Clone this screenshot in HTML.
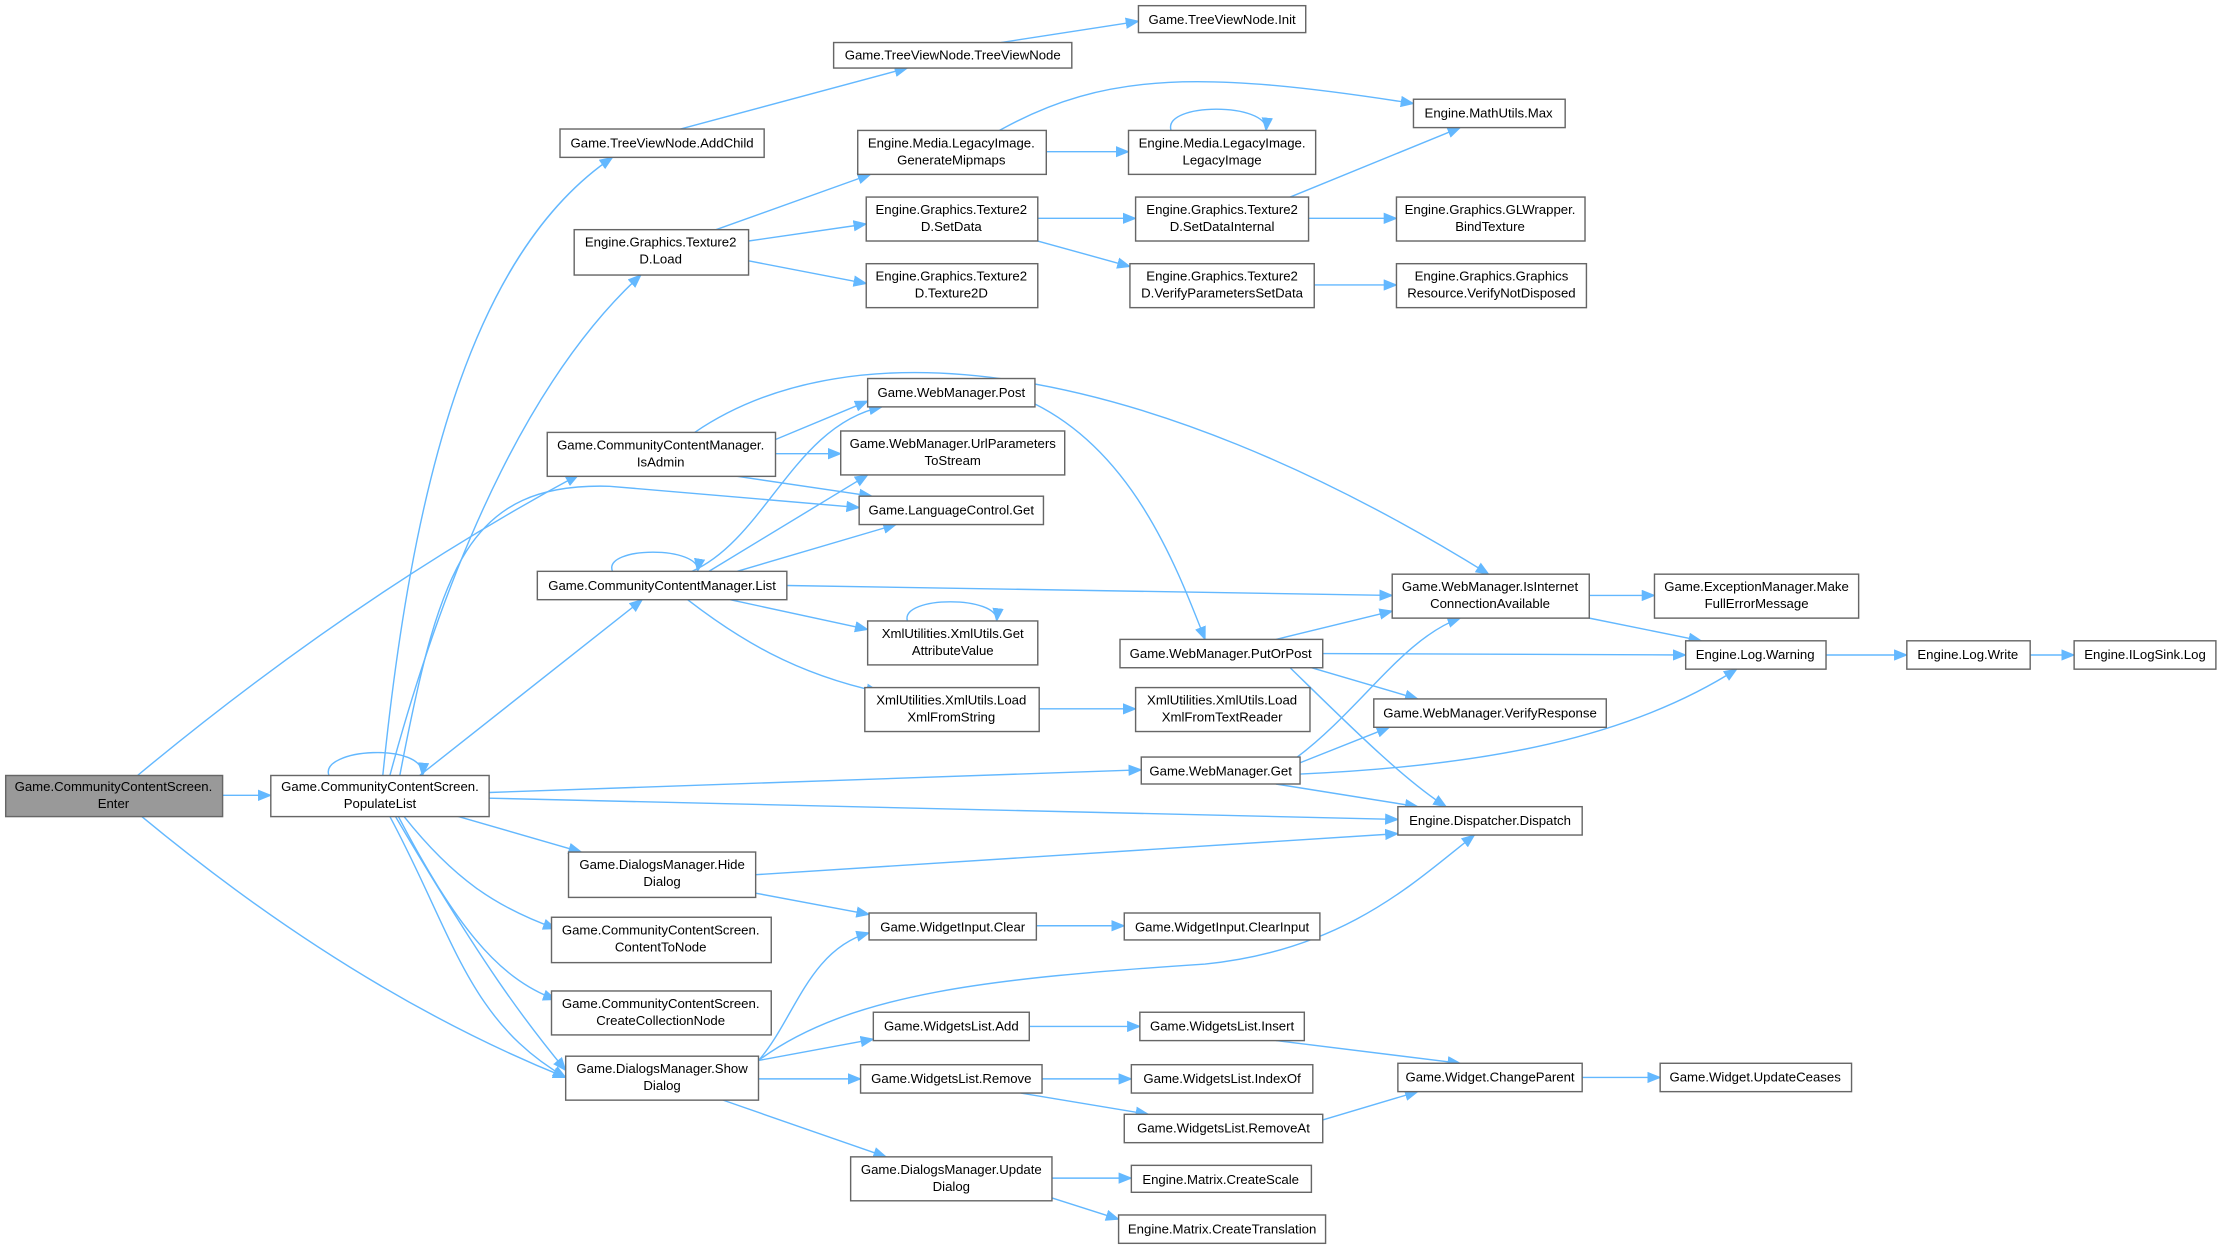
<!DOCTYPE html>
<html><head><meta charset="utf-8"><style>
html,body{margin:0;padding:0;background:#fff;}
svg{display:block;}
text{font-family:"Liberation Sans",sans-serif;font-size:9.3px;fill:#000;text-anchor:middle;}
.n{fill:#fff;stroke:#666;stroke-width:1;}
.e{fill:none;stroke:#63b8ff;stroke-width:1;marker-end:url(#a);}
</style></head><body>
<svg width="2223" height="1249" viewBox="0 0 1568 881" xmlns="http://www.w3.org/2000/svg">
<defs><marker id="a" markerUnits="userSpaceOnUse" markerWidth="10" markerHeight="8" refX="9" refY="4" orient="auto"><path d="M0,0 L10,4 L0,8 z" fill="#63b8ff"/></marker></defs>
<g>
<path class="e" d="M157,561 L191,561"/>
<path class="e" d="M97,547 Q250,420 408,335"/>
<path class="e" d="M100,576 Q250,700 399,760"/>
<path class="e" d="M232,547 C225,528 300,523 298,547"/>
<path class="e" d="M270,547 C290,350 330,180 432,111"/>
<path class="e" d="M275,547 C320,380 380,260 452,194"/>
<path class="e" d="M282,547 C310,400 330,340 430,343 L606,358"/>
<path class="e" d="M296,547 L453,423"/>
<path class="e" d="M345,559 L805,543"/>
<path class="e" d="M345,563 L986,578"/>
<path class="e" d="M320,575 L410,601"/>
<path class="e" d="M285,576 C320,620 350,640 392,655"/>
<path class="e" d="M281,576 C320,650 350,690 392,705"/>
<path class="e" d="M275,576 C320,660 330,720 399,760"/>
<path class="e" d="M279,576 C340,680 370,720 399,755"/>
<path class="e" d="M547,310 L612,283"/>
<path class="e" d="M547,320 L593,320"/>
<path class="e" d="M520,336 L615,350"/>
<path class="e" d="M490,305 C600,230 800,250 1050,405"/>
<path class="e" d="M432,403 C425,385 495,385 492,403"/>
<path class="e" d="M488,403 C540,380 560,300 622,287"/>
<path class="e" d="M500,403 L612,335"/>
<path class="e" d="M520,403 L632,370"/>
<path class="e" d="M555,413 L982,420"/>
<path class="e" d="M515,423 L612,444"/>
<path class="e" d="M485,423 C520,450 560,475 620,488"/>
<path class="e" d="M640,438 C635,420 705,420 703,438"/>
<path class="e" d="M733,500 L801,500"/>
<path class="e" d="M730,285 C800,320 830,400 850,451"/>
<path class="e" d="M900,451 L982,431"/>
<path class="e" d="M933,461 L1189,462"/>
<path class="e" d="M925,471 L1000,493"/>
<path class="e" d="M910,471 C950,510 990,550 1020,569"/>
<path class="e" d="M915,534 C960,500 990,450 1030,436"/>
<path class="e" d="M917,538 L980,513"/>
<path class="e" d="M917,546 C1050,540 1150,520 1225,472"/>
<path class="e" d="M900,553 L1000,569"/>
<path class="e" d="M1121,420 L1167,420"/>
<path class="e" d="M1121,436 L1200,452"/>
<path class="e" d="M1288,462 L1345,462"/>
<path class="e" d="M1432,462 L1463,462"/>
<path class="e" d="M533,617 L986,588"/>
<path class="e" d="M533,630 L613,645"/>
<path class="e" d="M535,748 C560,720 570,670 613,658"/>
<path class="e" d="M535,748 C600,700 700,690 850,680 C950,670 1000,620 1040,589"/>
<path class="e" d="M535,748 L616,733"/>
<path class="e" d="M535,761 L607,761"/>
<path class="e" d="M510,776 L625,816"/>
<path class="e" d="M731,653 L793,653"/>
<path class="e" d="M726,724 L804,724"/>
<path class="e" d="M900,734 L1030,750"/>
<path class="e" d="M735,761 L798,761"/>
<path class="e" d="M720,771 L810,786"/>
<path class="e" d="M933,790 L1000,770"/>
<path class="e" d="M1116,760 L1171,760"/>
<path class="e" d="M742,831 L798,831"/>
<path class="e" d="M742,845 L789,860"/>
<path class="e" d="M480,91 L640,48"/>
<path class="e" d="M706,30 L803,15"/>
<path class="e" d="M505,162 L614,123"/>
<path class="e" d="M528,170 L611,158"/>
<path class="e" d="M528,184 L611,200"/>
<path class="e" d="M738,107 L796,107"/>
<path class="e" d="M705,92 C780,50 850,50 997,73"/>
<path class="e" d="M826,92 C820,72 895,72 893,92"/>
<path class="e" d="M732,154 L801,154"/>
<path class="e" d="M732,170 L797,188"/>
<path class="e" d="M910,139 L1030,90"/>
<path class="e" d="M923,154 L985,154"/>
<path class="e" d="M927,201 L985,201"/>
</g>
<g>
<rect x="4" y="547" width="153" height="29" fill="#999" stroke="#666"/><text x="80" y="558">Game.CommunityContentScreen.</text><text x="80" y="570">Enter</text>
<rect class="n" x="191" y="547" width="154" height="29"/><text x="268" y="558">Game.CommunityContentScreen.</text><text x="268" y="570">PopulateList</text>
<rect class="n" x="395" y="91" width="144" height="20"/><text x="467" y="104">Game.TreeViewNode.AddChild</text>
<rect class="n" x="588" y="30" width="168" height="18"/><text x="672" y="42">Game.TreeViewNode.TreeViewNode</text>
<rect class="n" x="803" y="4" width="118" height="19"/><text x="862" y="17">Game.TreeViewNode.Init</text>
<rect class="n" x="405" y="162" width="123" height="32"/><text x="466" y="174">Engine.Graphics.Texture2</text><text x="466" y="186">D.Load</text>
<rect class="n" x="605" y="92" width="133" height="31"/><text x="671" y="104">Engine.Media.LegacyImage.</text><text x="671" y="116">GenerateMipmaps</text>
<rect class="n" x="796" y="92" width="132" height="31"/><text x="862" y="104">Engine.Media.LegacyImage.</text><text x="862" y="116">LegacyImage</text>
<rect class="n" x="997" y="70" width="107" height="20"/><text x="1050" y="83">Engine.MathUtils.Max</text>
<rect class="n" x="611" y="139" width="121" height="31"/><text x="671" y="151">Engine.Graphics.Texture2</text><text x="671" y="163">D.SetData</text>
<rect class="n" x="611" y="186" width="121" height="31"/><text x="671" y="198">Engine.Graphics.Texture2</text><text x="671" y="210">D.Texture2D</text>
<rect class="n" x="801" y="139" width="122" height="31"/><text x="862" y="151">Engine.Graphics.Texture2</text><text x="862" y="163">D.SetDataInternal</text>
<rect class="n" x="797" y="186" width="130" height="31"/><text x="862" y="198">Engine.Graphics.Texture2</text><text x="862" y="210">D.VerifyParametersSetData</text>
<rect class="n" x="985" y="139" width="133" height="31"/><text x="1051" y="151">Engine.Graphics.GLWrapper.</text><text x="1051" y="163">BindTexture</text>
<rect class="n" x="985" y="186" width="134" height="31"/><text x="1052" y="198">Engine.Graphics.Graphics</text><text x="1052" y="210">Resource.VerifyNotDisposed</text>
<rect class="n" x="612" y="267" width="118" height="20"/><text x="671" y="280">Game.WebManager.Post</text>
<rect class="n" x="593" y="304" width="158" height="31"/><text x="672" y="316">Game.WebManager.UrlParameters</text><text x="672" y="328">ToStream</text>
<rect class="n" x="386" y="305" width="161" height="31"/><text x="466" y="317">Game.CommunityContentManager.</text><text x="466" y="329">IsAdmin</text>
<rect class="n" x="606" y="350" width="130" height="20"/><text x="671" y="363">Game.LanguageControl.Get</text>
<rect class="n" x="379" y="403" width="176" height="20"/><text x="467" y="416">Game.CommunityContentManager.List</text>
<rect class="n" x="982" y="405" width="139" height="31"/><text x="1051" y="417">Game.WebManager.IsInternet</text><text x="1051" y="429">ConnectionAvailable</text>
<rect class="n" x="1167" y="405" width="144" height="31"/><text x="1239" y="417">Game.ExceptionManager.Make</text><text x="1239" y="429">FullErrorMessage</text>
<rect class="n" x="612" y="438" width="120" height="31"/><text x="672" y="450">XmlUtilities.XmlUtils.Get</text><text x="672" y="462">AttributeValue</text>
<rect class="n" x="790" y="451" width="143" height="20"/><text x="861" y="464">Game.WebManager.PutOrPost</text>
<rect class="n" x="1189" y="452" width="99" height="20"/><text x="1238" y="465">Engine.Log.Warning</text>
<rect class="n" x="1345" y="452" width="87" height="20"/><text x="1388" y="465">Engine.Log.Write</text>
<rect class="n" x="1463" y="452" width="100" height="20"/><text x="1513" y="465">Engine.ILogSink.Log</text>
<rect class="n" x="610" y="485" width="123" height="31"/><text x="671" y="497">XmlUtilities.XmlUtils.Load</text><text x="671" y="509">XmlFromString</text>
<rect class="n" x="801" y="485" width="123" height="31"/><text x="862" y="497">XmlUtilities.XmlUtils.Load</text><text x="862" y="509">XmlFromTextReader</text>
<rect class="n" x="969" y="493" width="164" height="20"/><text x="1051" y="506">Game.WebManager.VerifyResponse</text>
<rect class="n" x="805" y="534" width="112" height="19"/><text x="861" y="547">Game.WebManager.Get</text>
<rect class="n" x="986" y="569" width="130" height="20"/><text x="1051" y="582">Engine.Dispatcher.Dispatch</text>
<rect class="n" x="401" y="601" width="132" height="32"/><text x="467" y="613">Game.DialogsManager.Hide</text><text x="467" y="625">Dialog</text>
<rect class="n" x="389" y="647" width="155" height="32"/><text x="466" y="659">Game.CommunityContentScreen.</text><text x="466" y="671">ContentToNode</text>
<rect class="n" x="389" y="699" width="155" height="31"/><text x="466" y="711">Game.CommunityContentScreen.</text><text x="466" y="723">CreateCollectionNode</text>
<rect class="n" x="399" y="745" width="136" height="31"/><text x="467" y="757">Game.DialogsManager.Show</text><text x="467" y="769">Dialog</text>
<rect class="n" x="613" y="644" width="118" height="19"/><text x="672" y="657">Game.WidgetInput.Clear</text>
<rect class="n" x="793" y="644" width="138" height="19"/><text x="862" y="657">Game.WidgetInput.ClearInput</text>
<rect class="n" x="616" y="714" width="110" height="20"/><text x="671" y="727">Game.WidgetsList.Add</text>
<rect class="n" x="804" y="714" width="116" height="20"/><text x="862" y="727">Game.WidgetsList.Insert</text>
<rect class="n" x="607" y="751" width="128" height="20"/><text x="671" y="764">Game.WidgetsList.Remove</text>
<rect class="n" x="798" y="751" width="128" height="20"/><text x="862" y="764">Game.WidgetsList.IndexOf</text>
<rect class="n" x="793" y="786" width="140" height="20"/><text x="863" y="799">Game.WidgetsList.RemoveAt</text>
<rect class="n" x="986" y="750" width="130" height="20"/><text x="1051" y="763">Game.Widget.ChangeParent</text>
<rect class="n" x="1171" y="750" width="135" height="20"/><text x="1238" y="763">Game.Widget.UpdateCeases</text>
<rect class="n" x="600" y="816" width="142" height="31"/><text x="671" y="828">Game.DialogsManager.Update</text><text x="671" y="840">Dialog</text>
<rect class="n" x="798" y="822" width="127" height="19"/><text x="861" y="835">Engine.Matrix.CreateScale</text>
<rect class="n" x="789" y="857" width="146" height="20"/><text x="862" y="870">Engine.Matrix.CreateTranslation</text>
</g>
</svg>
</body></html>
